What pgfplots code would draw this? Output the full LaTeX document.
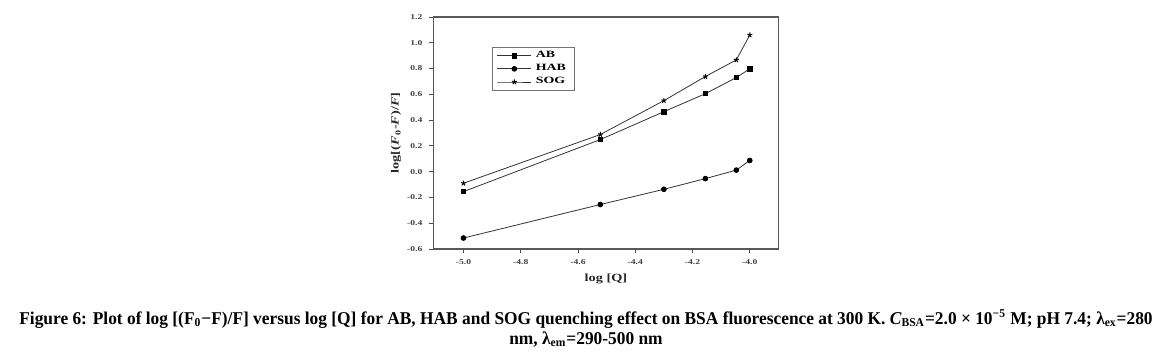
\documentclass[border=0pt]{standalone}
\usepackage{pgfplots}
\pgfplotsset{compat=1.18}
\usepackage{fontspec}
\setmainfont{Liberation Serif}
\newfontfamily\chartfont[FakeStretch=1.3]{Liberation Serif}
\newfontfamily\legfont[FakeStretch=1.45]{Liberation Serif}
\newfontfamily\capfont[FakeStretch=0.965]{Liberation Serif}
\begin{document}
\begin{tikzpicture}[x=1pt,y=1pt]
\path[use as bounding box] (0,0) rectangle (586,178);
\begin{axis}[
  at={(216.7pt,53.5pt)}, anchor=south west,
  scale only axis, width=172.5pt, height=116pt,
  xmin=-5.105, xmax=-3.9, ymin=-0.6, ymax=1.2,
  xtick={-5,-4.8,-4.6,-4.4,-4.2,-4},
  ytick={-0.6,-0.4,-0.2,0,0.2,0.4,0.6,0.8,1.0,1.2},
  tick align=outside, tick pos=left, major tick length=2pt,
  axis line style={line width=0.7pt, black!65},
  tick style={line width=0.4pt, black!70},
  /pgf/number format/assume math mode=true,
  /pgf/number format/fixed, /pgf/number format/fixed zerofill, /pgf/number format/precision=1,
  tick label style={font=\chartfont\fontsize{3.7}{4}\selectfont\bfseries, black!75},
  xlabel={log [Q]}, ylabel={log[(\textit{F}\textsubscript{0}-\textit{F})/\textit{F}]},
  label style={font=\chartfont\fontsize{5.5}{6}\selectfont\bfseries, black!85},
  xlabel style={at={(axis description cs:0.5,-0.129)}, anchor=center},
  ylabel style={at={(axis description cs:-0.108,0.5)}, anchor=center},
  legend style={at={(rel axis cs:0.171,0.87)}, anchor=north west, font=\legfont\fontsize{4.8}{4.8}\selectfont\bfseries,
    draw=black!55, line width=0.5pt, inner xsep=2pt, inner ysep=1.2pt, row sep=0.9pt,
    nodes={inner ysep=0.5pt}},
  legend cell align=left,
]
\addplot[black!80, line width=0.4pt, mark=square*, mark size=1.1pt, mark options={black}] coordinates {
(-5.0,-0.155) (-4.522,0.249) (-4.30,0.465) (-4.155,0.605) (-4.047,0.73) (-4.0,0.798)};
\addlegendentry{AB}
\addplot[black!80, line width=0.4pt, mark=*, mark size=1.2pt, mark options={black}] coordinates {
(-5.0,-0.515) (-4.522,-0.255) (-4.30,-0.137) (-4.155,-0.054) (-4.047,0.012) (-4.0,0.087)};
\addlegendentry{HAB}
\addplot[black!80, line width=0.4pt, mark=star, mark size=1.3pt, mark options={black, line width=0.5pt}] coordinates {
(-5.0,-0.09) (-4.522,0.288) (-4.30,0.551) (-4.155,0.738) (-4.047,0.867) (-4.0,1.06)};
\addlegendentry{SOG}
\end{axis}
\node[anchor=base, font=\capfont\fontsize{9}{11}\selectfont\bfseries] at (293,15.5) {Figure 6: Plot of log [(F\textsubscript{0}−F)/F] versus log [Q] for AB, HAB and SOG quenching effect on BSA fluorescence at 300 K. \textit{C}\textsubscript{BSA}=2.0 × 10\textsuperscript{−5} M; pH 7.4; λ\textsubscript{ex}=280};
\node[anchor=base, font=\capfont\fontsize{9}{11}\selectfont\bfseries] at (293,5.5) {nm, λ\textsubscript{em}=290-500 nm};
\end{tikzpicture}
\end{document}
